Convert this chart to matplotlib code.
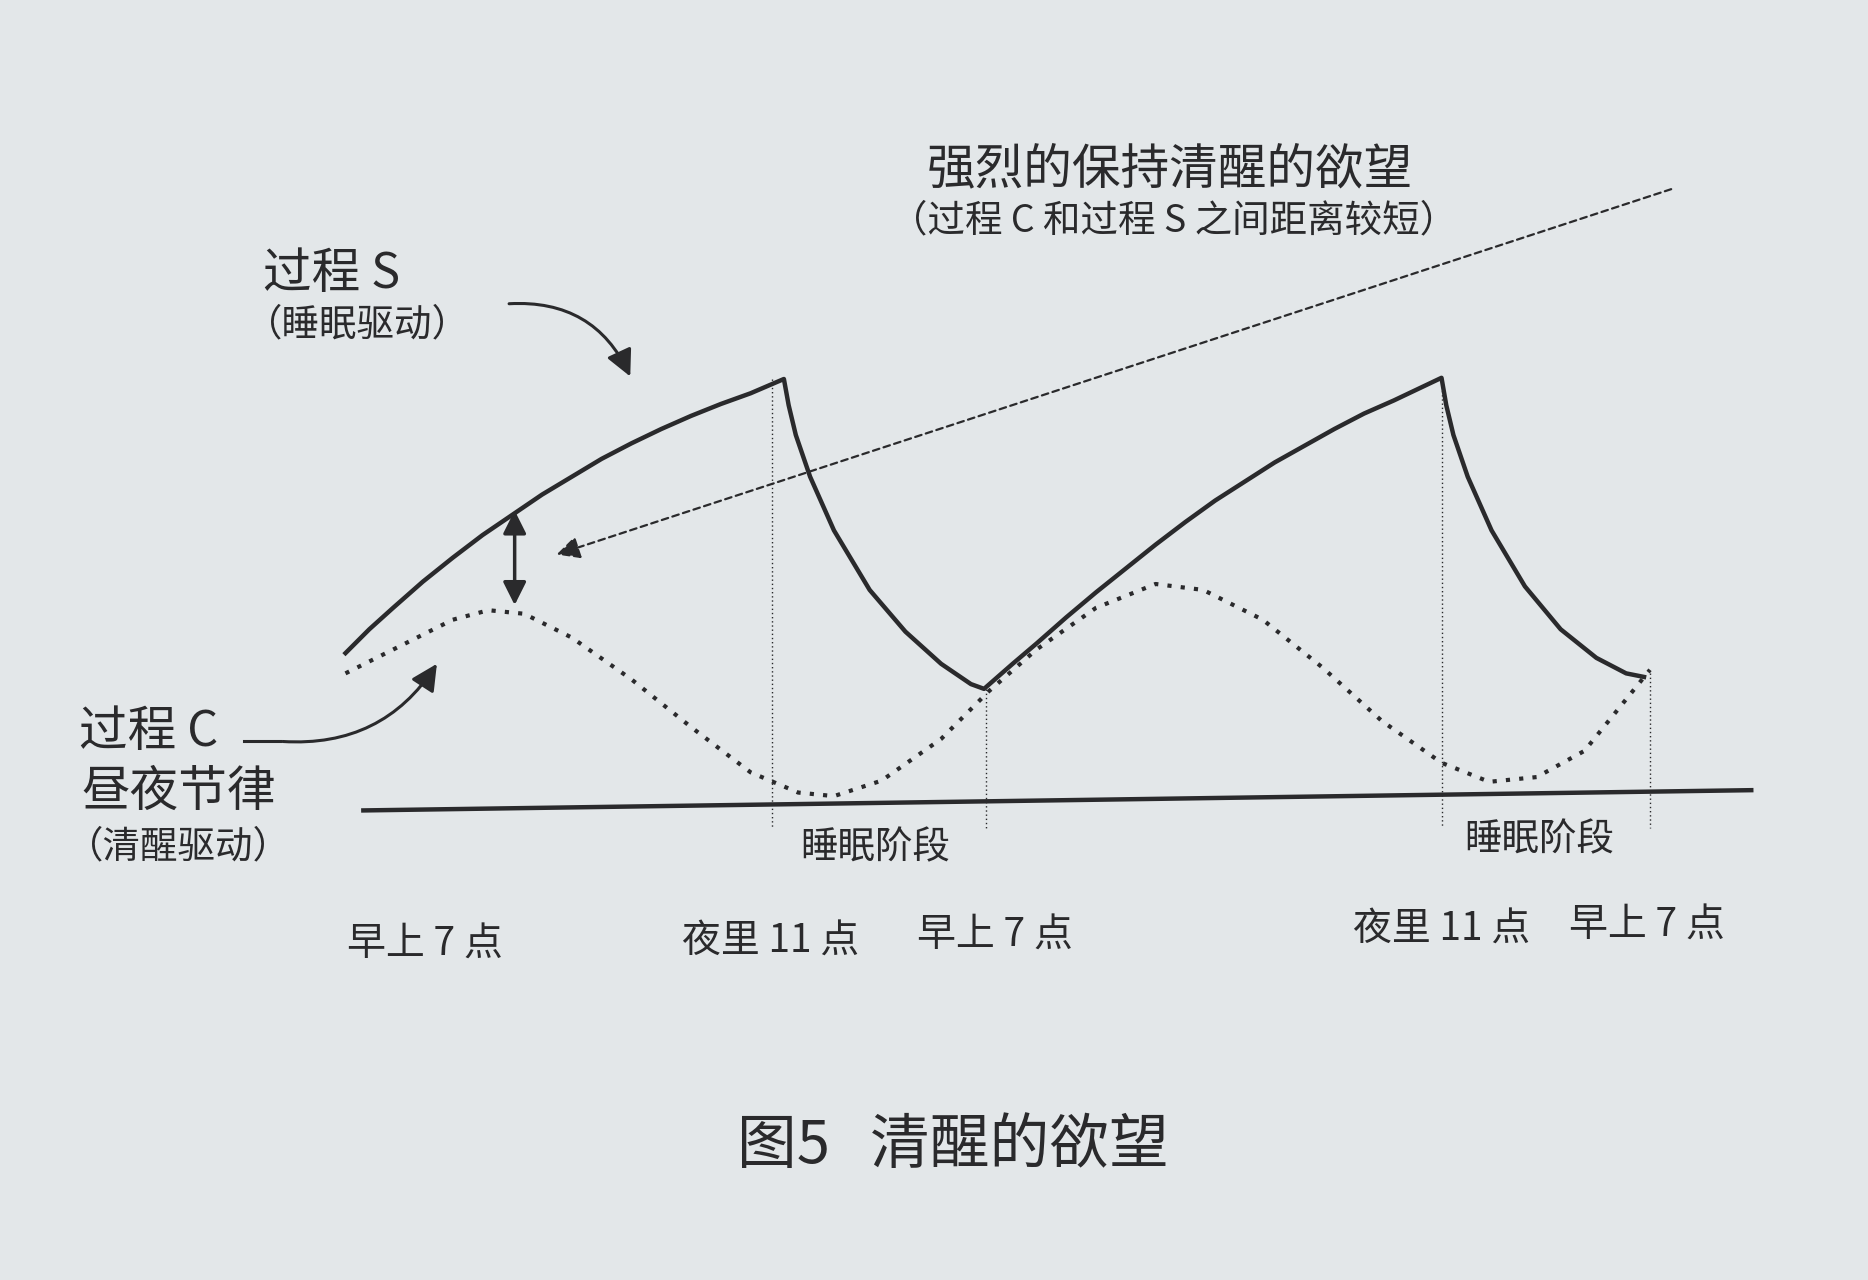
import matplotlib.pyplot as plt
from matplotlib.patches import FancyArrowPatch

plt.rcParams['font.family'] = ['Noto Sans CJK SC', 'DejaVu Sans']

# coordinates are in reference-picture pixels (x right, y down)
s_x = [290, 310, 330, 355, 380, 405, 430, 455, 480, 505, 530, 555, 580, 605, 630, 658,
       662, 668, 680, 700, 730, 760, 790, 815, 826,
       850, 870, 895, 920, 945, 970, 995, 1020, 1045, 1070, 1095, 1120, 1145, 1170, 1210,
       1214, 1220, 1232, 1252, 1280, 1310, 1340, 1365, 1380]
s_y = [548, 528, 510, 488, 468, 449, 432, 415, 400, 385, 372, 360, 349, 339, 330, 318,
       340, 365, 400, 445, 495, 530, 557, 574, 578,
       557, 540, 518, 497, 477, 457, 438, 420, 404, 388, 374, 360, 347, 336, 317,
       340, 365, 400, 445, 492, 528, 552, 565, 568]

c_x = [290, 330, 380, 410, 440, 480, 530, 580, 630, 670, 700, 740, 790, 830,
       870, 920, 970, 1010, 1060, 1110, 1160, 1210, 1250, 1290, 1330, 1385]
c_y = [565, 545, 520, 512, 515, 535, 570, 610, 648, 665, 668, 655, 620, 580,
       545, 510, 490, 495, 520, 560, 605, 640, 656, 652, 630, 562]

marks_x = [648, 828, 1210, 1385]
marks_top = [318, 578, 317, 565]

time_labels = ["早上 7 点", "夜里 11 点", "早上 7 点", "夜里 11 点", "早上 7 点"]
time_x = [357, 647, 835, 1210, 1382]
time_y = [793, 790, 785, 780, 777]

ink = "#2a2a2c"
fig = plt.figure(figsize=(18.68, 12.8), dpi=100)
fig.patch.set_facecolor("#e3e7e9")
ax = fig.add_axes([0, 0, 1, 1])
ax.set_xlim(0, 1568)
ax.set_ylim(1074, 0)
ax.axis("off")

ax.plot(s_x, s_y, color=ink, lw=3.2)
ax.plot(c_x, c_y, color=ink, lw=3, linestyle=(0, (1, 2.2)))
ax.plot([305, 1470], [680, 663], color=ink, lw=3.2)
for x, t in zip(marks_x, marks_top):
    ax.plot([x, x], [t, 695], color=ink, lw=1, linestyle=(0, (1, 2)))

ax.add_patch(FancyArrowPatch((1405, 158), (465, 466), arrowstyle="-|>,head_length=14,head_width=7",
                             linestyle=(0, (3, 2)), color=ink, lw=1.6, mutation_scale=1))
ax.add_patch(FancyArrowPatch((432, 426), (432, 510), arrowstyle="<|-|>,head_length=14,head_width=7",
                             color=ink, lw=2.5, mutation_scale=1))
ax.add_patch(FancyArrowPatch((425, 255), (530, 318), connectionstyle="arc3,rad=-0.35",
                             arrowstyle="-|>,head_length=16,head_width=8", color=ink, lw=2.2, mutation_scale=1))
ax.plot([205, 235], [622, 622], color=ink, lw=2.2)
ax.add_patch(FancyArrowPatch((235, 622), (368, 555), connectionstyle="arc3,rad=0.3",
                             arrowstyle="-|>,head_length=16,head_width=8", color=ink, lw=2.2, mutation_scale=1))

ax.text(982, 142, "强烈的保持清醒的欲望", fontsize=35, color=ink, ha="center", va="center")
ax.text(985, 185, "（过程 C 和过程 S 之间距离较短）", fontsize=27, color=ink, ha="center", va="center")
ax.text(278, 230, "过程 S", fontsize=35, color=ink, ha="center", va="center")
ax.text(300, 273, "（睡眠驱动）", fontsize=27, color=ink, ha="center", va="center")
ax.text(125, 614, "过程 C", fontsize=35, color=ink, ha="center", va="center")
ax.text(150, 665, "昼夜节律", fontsize=35, color=ink, ha="center", va="center")
ax.text(150, 711, "（清醒驱动）", fontsize=27, color=ink, ha="center", va="center")
ax.text(735, 711, "睡眠阶段", fontsize=27, color=ink, ha="center", va="center")
ax.text(1292, 705, "睡眠阶段", fontsize=27, color=ink, ha="center", va="center")
for lab, x, y in zip(time_labels, time_x, time_y):
    ax.text(x, y, lab, fontsize=28, color=ink, ha="center", va="center")
ax.text(800, 962, "图5   清醒的欲望", fontsize=43, color=ink, ha="center", va="center")

fig.savefig("out.png", dpi=100, facecolor=fig.get_facecolor())
